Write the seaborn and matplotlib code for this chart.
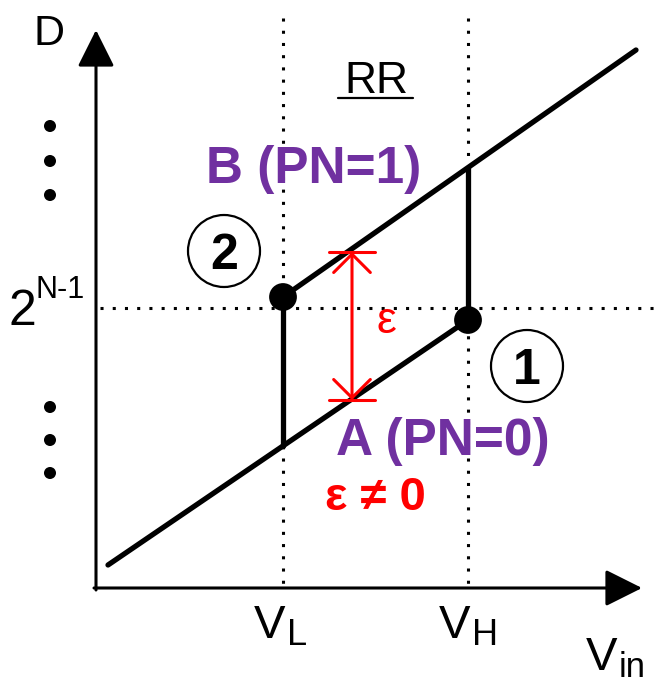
"""
Hysteresis of the decision D vs Vin with the two reference thresholds VL / VH
(sketch recreated on a pixel-like canvas, y grows downward).
"""

import numpy as np
import pandas as pd
import matplotlib
matplotlib.use("Agg")
import matplotlib.pyplot as plt
import matplotlib.patches as mpatches
import seaborn as sns

W, H = 654, 683

# --- data (canvas units) -----------------------------------------------------
V_L, V_H = 283, 468
D_MID = 308                                   # level 2^(N-1)
X0, Y0 = 96, 588                              # axis origin
X_TIP, Y_TIP = 642, 30                        # axis arrow tips

# transfer curves: segment id, x, y
SEG_ID = [0, 0, 1, 1, 2, 2, 3, 3]
SEG_X  = [108, 468, 283, 636, 283, 283, 468, 468]
SEG_Y  = [565, 320, 297, 50, 297, 446, 320, 168]

# switching points  (2) at VL on curve B, (1) at VH on curve A
PT_X = [V_L, V_H]
PT_Y = [297, 320]

# vertical ellipsis dots on the D axis
ELL_Y = [126, 161, 195, 407, 440, 473]
ELL_X = 50

EPS_X, EPS_TOP, EPS_BOT = 352, 252, 400

PURPLE = "#7030A0"
RED = "#FF0000"

sns.set_theme(style="white")
plt.rcParams["font.family"] = ["Liberation Sans", "DejaVu Sans"]
plt.rcParams["text.color"] = "black"

fig = plt.figure(figsize=(W / 100, H / 100), dpi=100)
ax = fig.add_axes([0, 0, 1, 1])

# guides
dot = (0, (1, 3))
for xv in (V_L, V_H):
    ax.plot([xv, xv], [18, Y0], color="black", lw=2.2, ls=dot, zorder=1)
ax.plot([X0 + 4, W], [D_MID, D_MID], color="black", lw=2.2, ls=dot, zorder=1)

# axes with arrows
arw = dict(arrowstyle="-|>,head_length=0.4,head_width=0.2", color="black",
           lw=2.2, shrinkA=0, shrinkB=0, mutation_scale=57)
ax.annotate("", xy=(X0, Y_TIP), xytext=(X0, Y0 + 2), arrowprops=arw)
ax.annotate("", xy=(X_TIP, Y0), xytext=(X0 - 2, Y0), arrowprops=arw)

# transfer curves
seg = pd.DataFrame({"id": SEG_ID, "x": SEG_X, "y": SEG_Y})
sns.lineplot(data=seg, x="x", y="y", units="id", estimator=None, sort=False,
             color="black", lw=3.8, ax=ax, legend=False, zorder=3)

pts = pd.DataFrame({"x": PT_X, "y": PT_Y})
sns.scatterplot(data=pts, x="x", y="y", s=400, color="black", edgecolor="none",
                ax=ax, zorder=4, legend=False)
ell = pd.DataFrame({"x": [ELL_X] * len(ELL_Y), "y": ELL_Y})
sns.scatterplot(data=ell, x="x", y="y", s=75, color="black", edgecolor="none",
                ax=ax, zorder=4, legend=False)

# epsilon arrow
ax.annotate("", xy=(EPS_X, EPS_TOP), xytext=(EPS_X, EPS_BOT),
            arrowprops=dict(arrowstyle="<->,head_length=0.4,head_width=0.4",
                            color=RED, lw=2.2, shrinkA=0, shrinkB=0,
                            mutation_scale=33), zorder=5)
for yb in (EPS_TOP, EPS_BOT):
    ax.plot([EPS_X - 23, EPS_X + 23], [yb, yb], color=RED, lw=2.2, zorder=5)

# circled state numbers
for (cx, cy, lab) in [(224, 251, "2"), (527, 366, "1")]:
    ax.add_patch(mpatches.Circle((cx, cy), 36, fill=False, ec="black", lw=1.6))
    ax.text(cx, cy + 18, lab, ha="center", va="baseline", fontsize=36,
            fontweight="bold", color="black")

# labels
ax.text(49, 45, "D", ha="center", va="baseline", fontsize=31)
ax.text(22, 325, "2", ha="center", va="baseline", fontsize=36)
ax.text(36, 298, "N-1", ha="left", va="baseline", fontsize=22)
ax.text(270, 638, "V", ha="center", va="baseline", fontsize=34)
ax.text(287, 645, "L", ha="left", va="baseline", fontsize=26)
ax.text(455, 638, "V", ha="center", va="baseline", fontsize=34)
ax.text(472, 645, "H", ha="left", va="baseline", fontsize=26)
ax.text(602, 670, "V", ha="center", va="baseline", fontsize=34)
ax.text(619, 677, "in", ha="left", va="baseline", fontsize=25)

ax.text(376, 93, "RR", ha="center", va="baseline", fontsize=32)
ax.plot([338, 413], [98, 98], color="black", lw=1.6)

ax.text(314, 183, "B (PN=1)", ha="center", va="baseline", fontsize=37,
        fontweight="bold", color=PURPLE)
ax.text(443, 455, "A (PN=0)", ha="center", va="baseline", fontsize=37,
        fontweight="bold", color=PURPLE)
ax.text(386, 333, "ε", ha="center", va="baseline", fontsize=32, color=RED)
ax.text(375, 510, "ε ≠ 0", ha="center", va="baseline", fontsize=34,
        fontweight="bold", color=RED)

ax.set_xlim(0, W)
ax.set_ylim(H, 0)
ax.axis("off")

fig.savefig("out.png", dpi=100)
